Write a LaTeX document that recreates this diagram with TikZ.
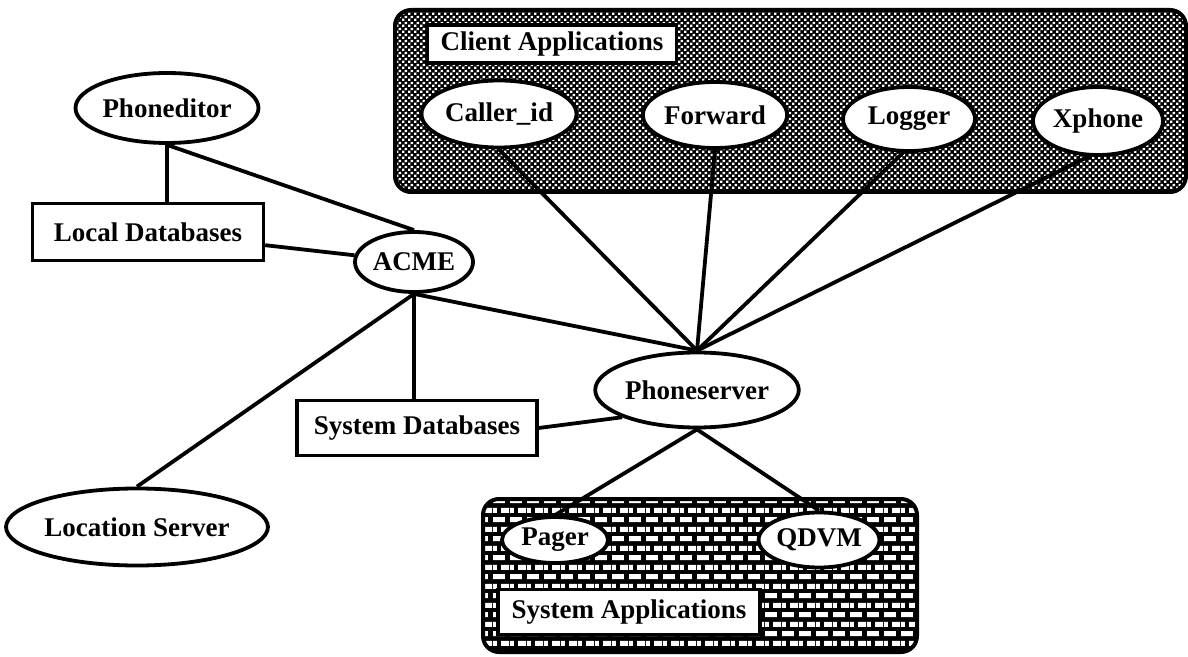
\documentclass[tikz,border=0pt]{standalone}
\usepackage{fontspec}
\setmainfont{Liberation Serif}
\usepackage{tikz}
\usetikzlibrary{shapes.geometric}
\usetikzlibrary{patterns}

% fine dither for the client group (drawn in white over black)
\pgfdeclarepatternformonly{clientdither}{\pgfpointorigin}{\pgfqpoint{3pt}{3pt}}{\pgfqpoint{3pt}{3pt}}{
  \pgfpathrectangle{\pgfqpoint{0.1pt}{0.1pt}}{\pgfqpoint{1.35pt}{1.35pt}}
  \pgfpathrectangle{\pgfqpoint{1.6pt}{1.6pt}}{\pgfqpoint{1.35pt}{1.35pt}}
  \pgfusepath{fill}
}
% brick wall for the system group
\pgfdeclarepatternformonly{syswall}{\pgfpointorigin}{\pgfqpoint{8.5pt}{9.6pt}}{\pgfqpoint{8.5pt}{9.6pt}}{
  \pgfpathrectangle{\pgfqpoint{0pt}{1pt}}{\pgfqpoint{6.3pt}{2.6pt}}
  \pgfpathrectangle{\pgfqpoint{4.25pt}{5.8pt}}{\pgfqpoint{4.25pt}{2.6pt}}
  \pgfpathrectangle{\pgfqpoint{0pt}{5.8pt}}{\pgfqpoint{2.05pt}{2.6pt}}
  \pgfusepath{fill}
}

\begin{document}
\begin{tikzpicture} [x=0.5pt, y=-0.5pt,
  every node/.style={font=\fontsize{13.5}{16}\selectfont\bfseries, inner sep=0pt},
  proc/.style={ellipse, draw, fill=white, line width=1.9pt},
  store/.style={rectangle, draw, fill=white, line width=1.7pt},
  group/.style={draw, line width=2pt, rounded corners=8pt},
  link/.style={line width=1.9pt}]
\useasboundingbox (0,0) rectangle (1188,657);

% groups
\draw[group, preaction={fill=black}, pattern=clientdither, pattern color=white] (395,10) rectangle (1186,192);
\draw[group, preaction={fill=black}, pattern=syswall, pattern color=white] (483,499) rectangle (917,652);

\node[store, minimum width=124.5pt, minimum height=19pt] (clientlbl) at (552,44) {Client Applications};
\node[store, minimum width=131pt, minimum height=22.5pt] (syslbl) at (629,612) {System Applications};

% components
\node[proc, minimum width=77.5pt, minimum height=33.5pt] (caller) at (499,114) {Caller\_id};
\node[proc, minimum width=70pt, minimum height=33pt] (forward) at (715,115) {Forward};
\node[proc, minimum width=66pt, minimum height=32pt] (logger) at (909,119) {Logger};
\node[proc, minimum width=65pt, minimum height=34pt] (xphone) at (1098,121) {Xphone};
\node[proc, minimum width=91.5pt, minimum height=35pt] (phoneditor) at (167,108) {Phoneditor};
\node[store, minimum width=115.5pt, minimum height=28.5pt] (localdb) at (148,232) {Local Databases};
\node[proc, minimum width=59pt, minimum height=30pt] (acme) at (414,262) {ACME};
\node[store, minimum width=120pt, minimum height=27.5pt] (sysdb) at (417,428) {System Databases};
\node[proc, minimum width=100pt, minimum height=37.5pt] (ps) at (697,390) {Phoneserver};
\node[proc, minimum width=126pt, minimum height=38.5pt] (location) at (137,527) {Location Server};
\node[proc, minimum width=53pt, minimum height=23pt] (pager) at (555,540) {Pager};
\node[proc, minimum width=59pt, minimum height=27.5pt] (qdvm) at (819,540) {QDVM};

% connections
\draw[link] (phoneditor.south) -- (phoneditor.south |- localdb.north);
\draw[link] (phoneditor.south) -- (acme.north);
\draw[link] (localdb) -- (acme);
\draw[link] (acme.south) -- (location.north);
\draw[link] (acme.south) -- (acme.south |- sysdb.north);
\draw[link] (acme.south) -- (ps.north);
\draw[link] (sysdb.east) -- (ps.200);

\draw[link] (ps.north) -- (caller.south);
\draw[link] (ps.north) -- (forward.south);
\draw[link] (ps.north) -- (logger.-100);
\draw[link] (ps.north) -- (xphone.-105);

\draw[link] (ps.south) -- (pager.north);
\draw[link] (ps.south) -- (qdvm.north);

\end{tikzpicture}
\end{document}
